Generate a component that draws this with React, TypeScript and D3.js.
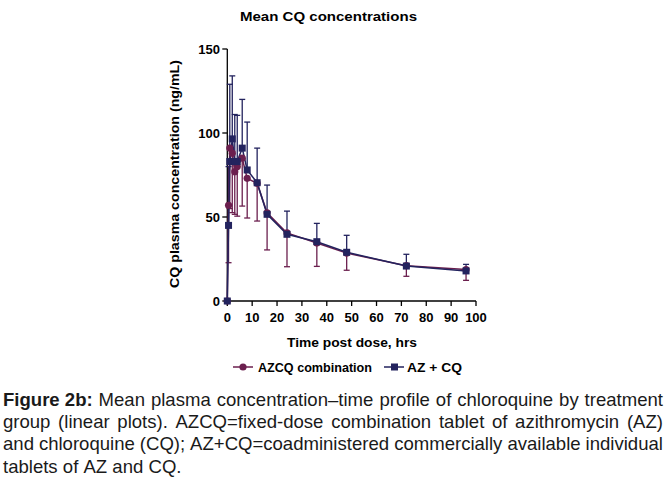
import React, { useMemo } from "react";
import * as d3 from "d3";

const times = [0, 0.5, 1, 2, 3, 4, 6, 8, 12, 16, 24, 36, 48, 72, 96];
const azcqMean = [0, 57, 91, 88, 77, 80, 85, 73, 70, 52.5, 40.5, 34.5, 28.5, 21, 18.7];
const azcqLower = [0, 22.8, 55, 52.6, 51.6, 50.5, 56.5, 49.4, 47.6, 30.4, 20.4, 20.6, 18.3, 14.7, 12.3];
const azPlusCqMean = [0, 45, 83, 96.5, 83, 83, 91, 78, 70.4, 51.6, 39.7, 35.3, 29, 20.8, 17.9];
const azPlusCqUpper = [0, 80, 129, 134, 111, 110.5, 120, 106.5, 91, 69, 53.5, 46.2, 39.1, 27.8, 21.8];
const yTicks = [0, 50, 100, 150];
const xTicks = [0, 10, 20, 30, 40, 50, 60, 70, 80, 90, 100];
const legendLabels = ["AZCQ combination", "AZ + CQ"];
const captionLead = "Figure 2b:";
const captionLines = [
  "Mean plasma concentration–time profile of chloroquine by treatment",
  "group (linear plots). AZCQ=fixed-dose combination tablet of azithromycin (AZ)",
  "and chloroquine (CQ); AZ+CQ=coadministered commercially available individual",
  "tablets of AZ and CQ.",
];

const MAROON = "#6b1f4e";
const NAVY = "#23235e";
const chartFont = "'Liberation Sans', Arial, sans-serif";
const capFont = "'Liberation Sans', Arial, sans-serif";
const CAP_SIZE = 18;
const CAP_X = 3;
const CAP_WIDTH = 660;
const LAST_LINE_WIDTH = 178.5;

type Word = { text: string; bold: boolean; x: number };

function useCaptionLayout() {
  return useMemo(() => {
    const canvas = document.createElement("canvas");
    const ctx = canvas.getContext("2d");
    const measure = (s: string, bold: boolean) => {
      if (!ctx) return s.length * CAP_SIZE * 0.5;
      ctx.font = `${bold ? "bold " : ""}${CAP_SIZE}px 'Liberation Sans', Arial, sans-serif`;
      return ctx.measureText(s).width;
    };
    const scale = LAST_LINE_WIDTH / measure(captionLines[3], false);
    const lines: Word[][] = captionLines.map((ln, li) => {
      const words: { text: string; bold: boolean }[] = [];
      if (li === 0) words.push({ text: captionLead, bold: true });
      ln.split(" ").forEach((w) => words.push({ text: w, bold: false }));
      const widths = words.map((w) => measure(w.text, w.bold));
      const total = widths.reduce((a, b) => a + b, 0);
      const space = measure(" ", false);
      const gap =
        li < 3 ? (CAP_WIDTH / scale - total) / (words.length - 1) : space;
      let cx = 0;
      return words.map((w, i) => {
        const out = { ...w, x: cx };
        cx += widths[i] + gap;
        return out;
      });
    });
    return { scale, lines };
  }, []);
}

export default function App() {
  const x = d3.scaleLinear().domain([0, 100]).range([227.3, 476]);
  const y = d3.scaleLinear().domain([0, 150]).range([301, 49]);
  const line = d3
    .line<number>()
    .x((_, i) => x(times[i]))
    .y((d) => y(d));
  const capW = 3;
  const caption = useCaptionLayout();

  return (
    <svg
      width={665}
      height={478}
      style={{ position: "absolute", left: 0, top: 0, background: "#fff" }}
    >
      <text
        x={240}
        y={21}
        fontFamily={chartFont}
        fontWeight="bold"
        fontSize={13}
        textLength={177}
        lengthAdjust="spacingAndGlyphs"
      >
        Mean CQ concentrations
      </text>

      {/* axes */}
      <line x1={x(0)} x2={x(0)} y1={y(150)} y2={y(0)} stroke="#000" strokeWidth={1.3} />
      <line x1={x(0)} x2={x(100)} y1={y(0)} y2={y(0)} stroke="#000" strokeWidth={1.3} />
      {yTicks.map((t) => (
        <g key={"y" + t}>
          <line x1={x(0) - 5} x2={x(0)} y1={y(t)} y2={y(t)} stroke="#000" strokeWidth={1.3} />
          <text
            x={220}
            y={y(t) + 4.5}
            textAnchor="end"
            fontFamily={chartFont}
            fontWeight="bold"
            fontSize={13}
          >
            {t}
          </text>
        </g>
      ))}
      {xTicks.map((t) => (
        <g key={"x" + t}>
          <line x1={x(t)} x2={x(t)} y1={y(0)} y2={y(0) + 5} stroke="#000" strokeWidth={1.3} />
          <text
            x={x(t)}
            y={321.5}
            textAnchor="middle"
            fontFamily={chartFont}
            fontWeight="bold"
            fontSize={13}
          >
            {t}
          </text>
        </g>
      ))}
      <text
        x={287}
        y={346.5}
        fontFamily={chartFont}
        fontWeight="bold"
        fontSize={13}
        textLength={130}
        lengthAdjust="spacingAndGlyphs"
      >
        Time post dose, hrs
      </text>
      <text
        transform={`translate(179,288) rotate(-90)`}
        fontFamily={chartFont}
        fontWeight="bold"
        fontSize={13}
        textLength={228}
        lengthAdjust="spacingAndGlyphs"
      >
        CQ plasma concentration (ng/mL)
      </text>

      {/* error bars */}
      {times.map((t, i) =>
        t === 0 ? null : (
          <g key={"em" + i} stroke={MAROON} strokeWidth={1.3}>
            <line x1={x(t)} x2={x(t)} y1={y(azcqMean[i])} y2={y(azcqLower[i])} />
            <line x1={x(t) - capW} x2={x(t) + capW} y1={y(azcqLower[i])} y2={y(azcqLower[i])} />
          </g>
        )
      )}
      {times.map((t, i) =>
        t === 0 ? null : (
          <g key={"en" + i} stroke={NAVY} strokeWidth={1.3}>
            <line x1={x(t)} x2={x(t)} y1={y(azPlusCqMean[i])} y2={y(azPlusCqUpper[i])} />
            <line
              x1={x(t) - capW}
              x2={x(t) + capW}
              y1={y(azPlusCqUpper[i])}
              y2={y(azPlusCqUpper[i])}
            />
          </g>
        )
      )}

      {/* lines */}
      <path d={line(azcqMean) || ""} fill="none" stroke={MAROON} strokeWidth={1.5} />
      <path d={line(azPlusCqMean) || ""} fill="none" stroke={NAVY} strokeWidth={1.5} />

      {/* markers */}
      {azcqMean.map((v, i) => (
        <circle key={"cm" + i} cx={x(times[i])} cy={y(v)} r={3.6} fill={MAROON} />
      ))}
      {azPlusCqMean.map((v, i) => (
        <rect
          key={"sq" + i}
          x={x(times[i]) - 3.5}
          y={y(v) - 3.5}
          width={7}
          height={7}
          fill={NAVY}
        />
      ))}

      {/* legend */}
      <line x1={233} x2={253} y1={367} y2={367} stroke={MAROON} strokeWidth={1.5} />
      <circle cx={243} cy={367} r={3.6} fill={MAROON} />
      <text
        x={258}
        y={371.5}
        fontFamily={chartFont}
        fontWeight="bold"
        fontSize={13}
        textLength={114}
        lengthAdjust="spacingAndGlyphs"
      >
        {legendLabels[0]}
      </text>
      <line x1={384} x2={404} y1={367} y2={367} stroke={NAVY} strokeWidth={1.5} />
      <rect x={391} y={363.5} width={7} height={7} fill={NAVY} />
      <text
        x={407}
        y={371.5}
        fontFamily={chartFont}
        fontWeight="bold"
        fontSize={13}
        textLength={55}
        lengthAdjust="spacingAndGlyphs"
      >
        {legendLabels[1]}
      </text>

      {/* caption (justified) */}
      {caption.lines.map((words, li) => (
        <g
          key={"cap" + li}
          transform={`translate(${CAP_X},${406 + li * 22.2}) scale(${caption.scale},1)`}
        >
          <text fontFamily={capFont} fontSize={CAP_SIZE} fill="#1a1a1a">
            {words.map((w, wi) => (
              <tspan key={wi} x={w.x} fontWeight={w.bold ? "bold" : "normal"}>
                {w.text}
              </tspan>
            ))}
          </text>
        </g>
      ))}
    </svg>
  );
}
